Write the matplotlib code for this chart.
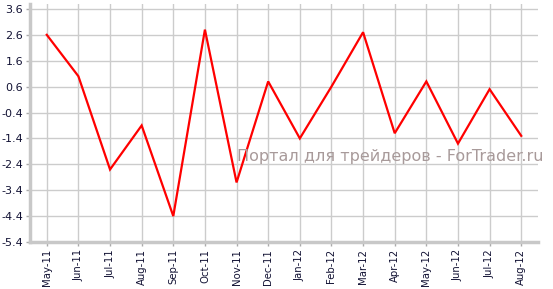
import matplotlib
matplotlib.use("Agg")
import matplotlib.pyplot as plt
import numpy as np

months = ["May-11", "Jun-11", "Jul-11", "Aug-11", "Sep-11", "Oct-11", "Nov-11", "Dec-11",
          "Jan-12", "Feb-12", "Mar-12", "Apr-12", "May-12", "Jun-12", "Jul-12", "Aug-12"]
values = [2.6, 1.0, -2.6, -0.9, -4.4, 2.8, -3.1, 0.8,
          -1.4, 0.6, 2.7, -1.2, 0.8, -1.6, 0.5, -1.3]
yticks = [3.6, 2.6, 1.6, 0.6, -0.4, -1.4, -2.4, -3.4, -4.4, -5.4]
watermark = "Портал для трейдеров - ForTrader.ru"

fig = plt.figure(figsize=(5.53, 2.89), dpi=100)
ax = fig.add_axes([30/553, 1-242/289, (538-30)/553, (242-4)/289])

x = np.arange(len(months))
ax.plot(x, values, color="#ff0000", lw=1.6, zorder=3, solid_joinstyle="miter")

ax.set_xlim(-0.53, len(months) - 0.47)
ax.set_ylim(-5.4, 3.79)
ax.set_yticks(yticks)
ax.set_yticklabels([f"{v:.1f}" for v in yticks], fontsize=8, color="#111133")
ax.set_xticks(x)
ax.set_xticklabels(months, rotation=90, fontsize=7.3, color="#111133")

ax.grid(True, color="#cccccc", lw=1)
ax.set_axisbelow(True)
for s in ["top", "right"]:
    ax.spines[s].set_visible(False)
for s in ["left", "bottom"]:
    ax.spines[s].set_color("#c8c8c8")
    ax.spines[s].set_linewidth(2.5)
ax.tick_params(axis="both", length=3, width=1, color="#aaaaaa", pad=2)

fig.text(390/553, 1-156/289, watermark, fontsize=11.5, color="#a89a9a",
         ha="center", va="center", zorder=5)

fig.savefig("out.png", dpi=100)
